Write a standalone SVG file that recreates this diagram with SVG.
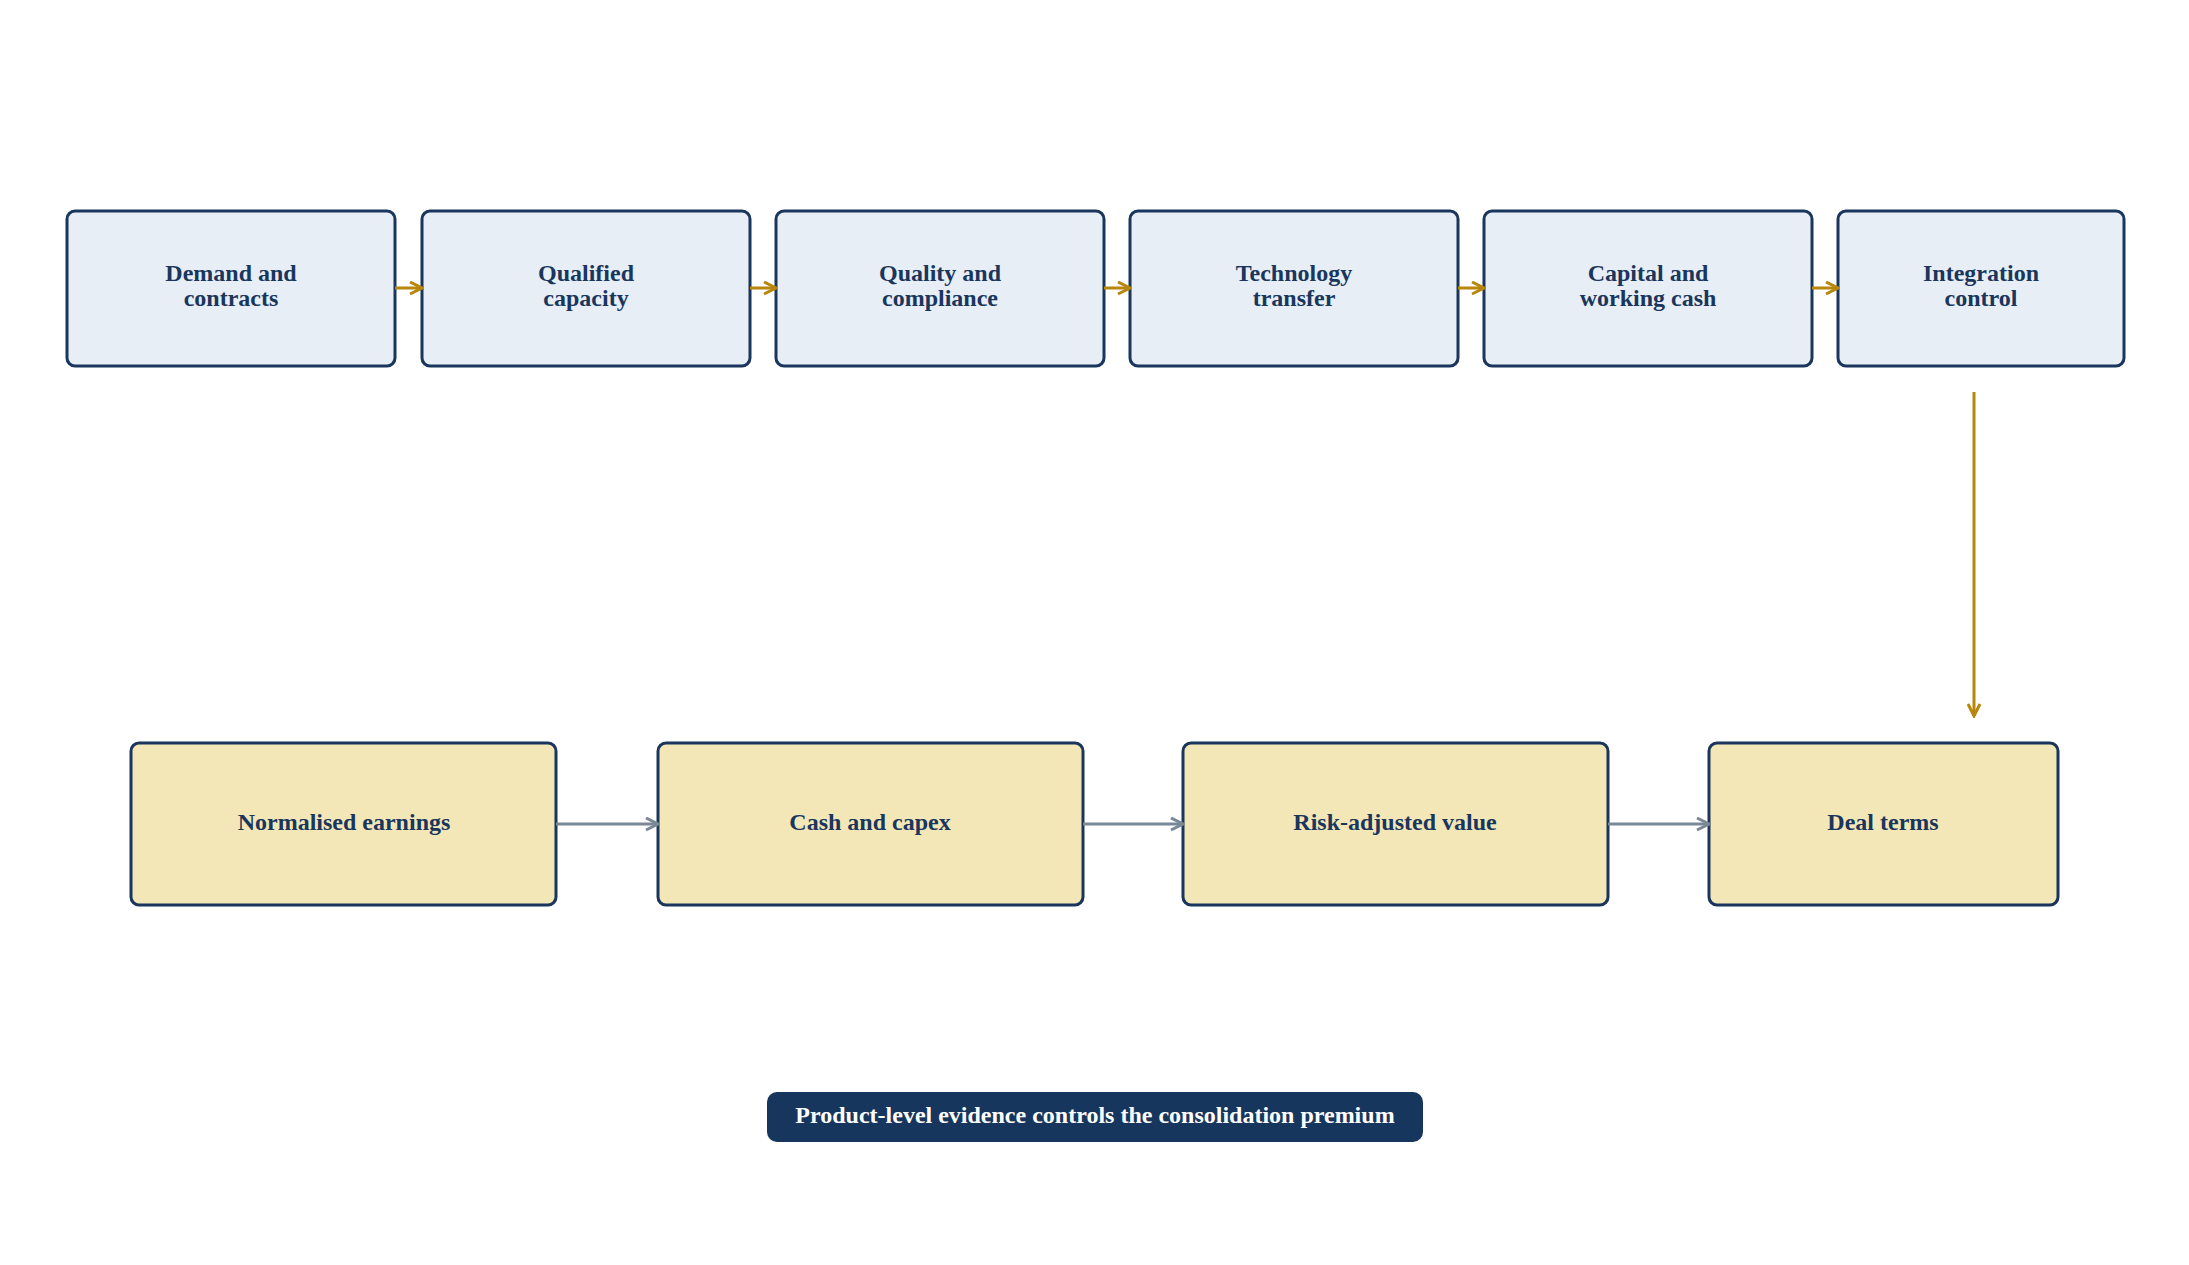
<svg xmlns="http://www.w3.org/2000/svg" width="2189" height="1265" viewBox="0 0 2189 1265">
<style>
.t{fill:#e7eef6;stroke:#1a365d;stroke-width:3}
.b{fill:#f3e7b7;stroke:#1a365d;stroke-width:3}
text{font-family:"Liberation Serif",serif;font-weight:bold;font-size:24px;fill:#1a365d;text-anchor:middle}
.g{stroke:#b8860b;stroke-width:3;fill:none;marker-end:url(#ag)}
.s{stroke:#7a8896;stroke-width:3;fill:none;marker-end:url(#as)}
</style>
<defs>
<marker id="ag" viewBox="0 0 10 10" refX="9" refY="5" markerWidth="5" markerHeight="5" orient="auto"><path d="M1,1 L9,5 L1,9" fill="none" stroke="#b8860b" stroke-width="2"/></marker>
<marker id="as" viewBox="0 0 10 10" refX="9" refY="5" markerWidth="5" markerHeight="5" orient="auto"><path d="M1,1 L9,5 L1,9" fill="none" stroke="#7a8896" stroke-width="2"/></marker>
</defs>
<rect width="2189" height="1265" fill="#fff"/>
<g id="n1"><rect class="t" x="67" y="211" width="328" height="155" rx="8"/><text x="231" y="281">Demand and</text><text x="231" y="306">contracts</text></g>
<g id="n2"><rect class="t" x="422" y="211" width="328" height="155" rx="8"/><text x="586" y="281">Qualified</text><text x="586" y="306">capacity</text></g>
<g id="n3"><rect class="t" x="776" y="211" width="328" height="155" rx="8"/><text x="940" y="281">Quality and</text><text x="940" y="306">compliance</text></g>
<g id="n4"><rect class="t" x="1130" y="211" width="328" height="155" rx="8"/><text x="1294" y="281">Technology</text><text x="1294" y="306">transfer</text></g>
<g id="n5"><rect class="t" x="1484" y="211" width="328" height="155" rx="8"/><text x="1648" y="281">Capital and</text><text x="1648" y="306">working cash</text></g>
<g id="n6"><rect class="t" x="1838" y="211" width="286" height="155" rx="8"/><text x="1981" y="281">Integration</text><text x="1981" y="306">control</text></g>
<g id="m1"><rect class="b" x="131" y="743" width="425" height="162" rx="8"/><text x="344" y="830">Normalised earnings</text></g>
<g id="m2"><rect class="b" x="658" y="743" width="425" height="162" rx="8"/><text x="870" y="830">Cash and capex</text></g>
<g id="m3"><rect class="b" x="1183" y="743" width="425" height="162" rx="8"/><text x="1395" y="830">Risk-adjusted value</text></g>
<g id="m4"><rect class="b" x="1709" y="743" width="349" height="162" rx="8"/><text x="1883" y="830">Deal terms</text></g>
<g id="banner"><rect x="767" y="1092" width="656" height="50" rx="10" fill="#17365d"/><text x="1095" y="1123" style="fill:#fff">Product-level evidence controls the consolidation premium</text></g>
<g id="connectors">
<line class="g" x1="395" y1="288" x2="422" y2="288"/>
<line class="g" x1="750" y1="288" x2="776" y2="288"/>
<line class="g" x1="1104" y1="288" x2="1130" y2="288"/>
<line class="g" x1="1458" y1="288" x2="1484" y2="288"/>
<line class="g" x1="1812" y1="288" x2="1838" y2="288"/>
<line class="g" x1="1974" y1="392" x2="1974" y2="716"/>
<line class="s" x1="556" y1="824" x2="658" y2="824"/>
<line class="s" x1="1083" y1="824" x2="1183" y2="824"/>
<line class="s" x1="1608" y1="824" x2="1709" y2="824"/>
</g>
</svg>
